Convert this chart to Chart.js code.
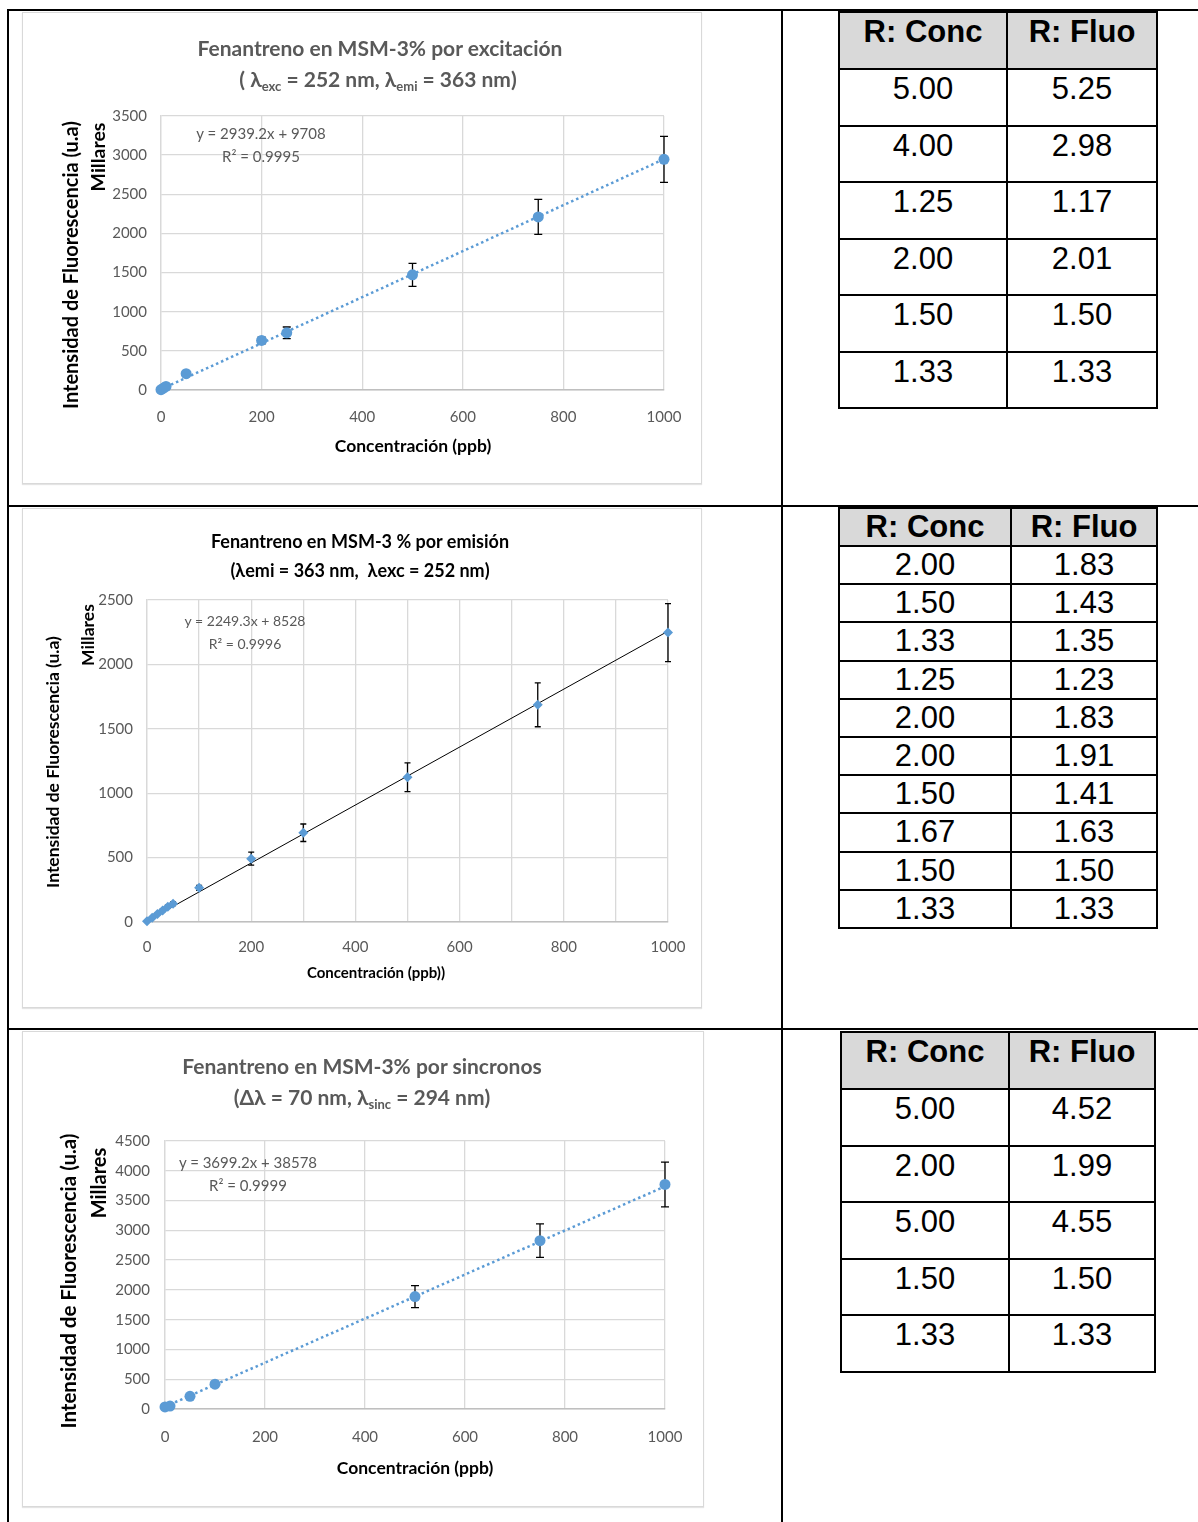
<!DOCTYPE html>
<html>
<head>
<meta charset="utf-8">
<script src="https://cdn.jsdelivr.net/npm/chart.js@4.4.1/dist/chart.umd.min.js"></script>
<style>
  html, body { margin: 0; padding: 0; background: #fff; }
  body { width: 1198px; height: 1522px; position: relative; overflow: hidden; font-family: Lato, "Open Sans", sans-serif; }
  .ln { position: absolute; background: #000; }
  .frame { position: absolute; border: 1px solid #d9d9d9; box-sizing: border-box; box-shadow: 0 1px 1px #e4e4e4; }
  .cv { position: absolute; }
  .txt { position: absolute; white-space: nowrap; transform: translate(-50%, -50%); }
  .rot { transform: translate(-50%, -50%) rotate(-90deg); }
  .ttl { font-weight: bold; font-size: 21px; color: #595959; }
  .ttl sub { font-size: 13px; vertical-align: -4px; }
  .eq { font-size: 15px; color: #595959; line-height: 23px; text-align: center; }
  .ax { font-weight: bold; font-size: 17px; color: #000; }
  table.rt { position: absolute; border-collapse: collapse; font-family: "Liberation Sans", Arial, sans-serif; font-size: 31px; color: #000; }
  table.rt td, table.rt th { border: 2px solid #000; text-align: center; padding: 0; }
  table.rt th { background: #d9d9d9; font-weight: bold; }
</style>
</head>
<body>

<!-- outer table lines -->
<div class="ln" style="left:8px; top:9px; width:1190px; height:2px;"></div>
<div class="ln" style="left:8px; top:505px; width:1190px; height:2px;"></div>
<div class="ln" style="left:8px; top:1028px; width:1190px; height:2px;"></div>
<div class="ln" style="left:7px; top:9px; width:2px; height:1513px;"></div>
<div class="ln" style="left:781px; top:9px; width:2px; height:1513px;"></div>

<div class="frame" style="left:22px; top:12px; width:680px; height:472px;"></div>
<div class="frame" style="left:22px; top:508px; width:680px; height:500px;"></div>
<div class="frame" style="left:22px; top:1031px; width:682px; height:476px;"></div>

<div class="cv" style="left:22px; top:12px; width:680px; height:472px;"><canvas id="c1"></canvas></div>
<div class="cv" style="left:22px; top:508px; width:680px; height:500px;"><canvas id="c2"></canvas></div>
<div class="cv" style="left:22px; top:1031px; width:682px; height:476px;"><canvas id="c3"></canvas></div>

<!-- chart 1 texts -->
<div class="txt ttl" style="left:380px; top:47px;">Fenantreno en MSM-3% por excitación</div>
<div class="txt ttl" style="left:378px; top:80px;">( λ<sub>exc</sub> = 252 nm, λ<sub>emi</sub> = 363 nm)</div>
<div class="txt eq" style="left:261px; top:145px;">y = 2939.2x + 9708<br>R² = 0.9995</div>
<div class="txt ax" style="left:413px; top:445px; font-size:17.5px;">Concentración (ppb)</div>
<div class="txt ax rot" style="left:70px; top:265px; font-size:20px;">Intensidad de Fluorescencia (u.a)</div>
<div class="txt ax rot" style="left:97px; top:157px; font-size:19.5px;">Millares</div>

<!-- chart 2 texts -->
<div class="txt ttl" style="left:360px; top:541px; color:#000; font-size:18px;">Fenantreno en MSM-3 % por emisión</div>
<div class="txt ttl" style="left:360px; top:570px; color:#000; font-size:18px;">(λemi = 363 nm,&nbsp; λexc = 252 nm)</div>
<div class="txt eq" style="left:245px; top:632px; font-size:14px;">y = 2249.3x + 8528<br>R² = 0.9996</div>
<div class="txt ax" style="left:376px; top:972px; font-size:15px;">Concentración (ppb))</div>
<div class="txt ax rot" style="left:52px; top:762px; font-size:17.5px;">Intensidad de Fluorescencia (u.a)</div>
<div class="txt ax rot" style="left:87px; top:635px; font-size:17.5px;">Millares</div>

<!-- chart 3 texts -->
<div class="txt ttl" style="left:362px; top:1065px;">Fenantreno en MSM-3% por sincronos</div>
<div class="txt ttl" style="left:362px; top:1098px;">(Δλ = 70 nm, λ<sub>sinc</sub> = 294 nm)</div>
<div class="txt eq" style="left:248px; top:1174px;">y = 3699.2x + 38578<br>R² = 0.9999</div>
<div class="txt ax" style="left:415px; top:1467px; font-size:17.5px;">Concentración (ppb)</div>
<div class="txt ax rot" style="left:68px; top:1281px; font-size:20.5px;">Intensidad de Fluorescencia (u.a)</div>
<div class="txt ax rot" style="left:98px; top:1183px; font-size:20px;">Millares</div>

<table class="rt" id="t1" style="left:838px; top:11px; width:320px;"></table>
<table class="rt" id="t2" style="left:838px; top:507px; width:320px;"></table>
<table class="rt" id="t3" style="left:840px; top:1031px; width:316px;"></table>

<script>
// ── Chart 1: excitación (y in Millares) ──
const conc1 = [0, 5, 10, 50, 200, 250, 500, 750, 1000];
const fluo1 = [4, 25, 45, 208, 633, 731, 1471, 2211, 2946];
const err1  = [0, 2, 4, 20, 42, 74, 147, 223, 293];
const trendX1 = [0, 1000];
const trendY1 = [9.7, 2948.9];

// ── Chart 2: emisión ──
const conc2 = [0, 10, 20, 30, 40, 50, 100, 200, 300, 500, 750, 1000];
const fluo2 = [5, 33, 62, 90, 119, 142, 265, 492, 693, 1124, 1686, 2247];
const err2  = [0, 3, 6, 9, 12, 14, 20, 50, 68, 111, 170, 225];
const trendX2 = [0, 1000];
const trendY2 = [8.5, 2257.8];

// ── Chart 3: sincronos ──
const conc3 = [0, 10, 50, 100, 500, 750, 1000];
const fluo3 = [35, 50, 213, 416, 1888, 2826, 3770];
const err3  = [3, 5, 21, 42, 185, 281, 376];
const trendX3 = [0, 1000];
const trendY3 = [38.6, 3737.8];

// ── Ratio tables ──
const t1Conc = ['5.00', '4.00', '1.25', '2.00', '1.50', '1.33'];
const t1Fluo = ['5.25', '2.98', '1.17', '2.01', '1.50', '1.33'];
const t2Conc = ['2.00', '1.50', '1.33', '1.25', '2.00', '2.00', '1.50', '1.67', '1.50', '1.33'];
const t2Fluo = ['1.83', '1.43', '1.35', '1.23', '1.83', '1.91', '1.41', '1.63', '1.50', '1.33'];
const t3Conc = ['5.00', '2.00', '5.00', '1.50', '1.33'];
const t3Fluo = ['4.52', '1.99', '4.55', '1.50', '1.33'];

const BLUE = '#5b9bd5';
const FONT = 'Lato, "Open Sans", sans-serif';

function buildTable(id, conc, fluo, col1, headH, rowH, padTop) {
  const t = document.getElementById(id);
  const st = `vertical-align:top; padding-top:${padTop}px; box-sizing:border-box;`;
  t.innerHTML =
    `<tr style="height:${headH}px"><th style="width:${col1}px; ${st}">R: Conc</th><th style="${st}">R: Fluo</th></tr>` +
    conc.map((c, i) => `<tr style="height:${rowH}px"><td style="${st}">${c}</td><td style="${st}">${fluo[i]}</td></tr>`).join('');
}
buildTable('t1', t1Conc, t1Fluo, 168, 57, 56.5, 1);
buildTable('t2', t2Conc, t2Fluo, 172, 38, 38.2, 0);
buildTable('t3', t3Conc, t3Fluo, 168, 57, 56.5, 1);

// error bars, drawn under the markers
const errorBars = {
  id: 'errorBars',
  beforeDatasetsDraw(chart, args, opts) {
    const { ctx, scales: { x, y } } = chart;
    const ds = chart.data.datasets[0];
    const errs = opts.values || [];
    ctx.save();
    ctx.strokeStyle = '#000';
    ctx.lineWidth = opts.width || 1.2;
    ds.data.forEach((p, i) => {
      const e = errs[i];
      if (!e) return;
      const px = x.getPixelForValue(p.x);
      const y0 = y.getPixelForValue(p.y - e), y1 = y.getPixelForValue(p.y + e);
      const c = opts.cap || 4;
      ctx.beginPath();
      ctx.moveTo(px, y0); ctx.lineTo(px, y1);
      ctx.moveTo(px - c, y0); ctx.lineTo(px + c, y0);
      ctx.moveTo(px - c, y1); ctx.lineTo(px + c, y1);
      ctx.stroke();
    });
    ctx.restore();
  }
};

function makeChart(id, cfg) {
  const pts = cfg.conc.map((c, i) => ({ x: c, y: cfg.fluo[i] }));
  const trend = cfg.trendX.map((c, i) => ({ x: c, y: cfg.trendY[i] }));
  return new Chart(document.getElementById(id), {
    type: 'scatter',
    data: { datasets: [
      { data: pts, backgroundColor: BLUE, borderColor: BLUE, pointStyle: cfg.marker, pointRadius: cfg.radius,
        borderWidth: 0, clip: false, order: 0 },
      { data: trend, showLine: true, pointRadius: 0, borderColor: cfg.lineColor, borderWidth: cfg.lineWidth,
        borderDash: cfg.dash, clip: false, order: 1 }
    ]},
    plugins: [errorBars],
    options: {
      animation: false, responsive: true, maintainAspectRatio: false,
      layout: { padding: { left: 0, right: cfg.pad.r, top: cfg.pad.t, bottom: 0 } },
      plugins: { legend: { display: false }, tooltip: { enabled: false },
        errorBars: { values: cfg.err, cap: cfg.cap, width: 1.3 } },
      scales: {
        x: {
          type: 'linear', min: 0, max: 1000,
          afterFit: s => { s.height = cfg.pad.b; },
          ticks: { stepSize: cfg.xStep, autoSkip: false, padding: cfg.xPad, color: '#595959',
            font: { family: FONT, size: cfg.tick },
            callback: v => (v % 200 === 0 ? String(v) : '') },
          grid: { color: '#d9d9d9', lineWidth: 1.3, drawTicks: false },
          border: { color: cfg.axisColor, width: 1.5 }
        },
        y: {
          min: 0, max: cfg.yMax,
          afterFit: s => { s.width = cfg.pad.l; },
          ticks: { stepSize: 500, padding: cfg.yPad, color: '#595959', font: { family: FONT, size: cfg.tick },
            callback: v => String(v) },
          grid: { color: '#d9d9d9', lineWidth: 1.3, drawTicks: false },
          border: { color: '#d9d9d9', width: 1.3 }
        }
      }
    }
  });
}

makeChart('c1', { conc: conc1, fluo: fluo1, err: err1, trendX: trendX1, trendY: trendY1,
  marker: 'circle', radius: 5.5, lineColor: BLUE, lineWidth: 2.5, dash: [2.5, 3], cap: 4,
  yMax: 3500, xStep: 200, tick: 15, xPad: 18, yPad: 14, axisColor: '#bfbfbf',
  pad: { l: 139, r: 38, t: 104, b: 94 } });

makeChart('c2', { conc: conc2, fluo: fluo2, err: err2, trendX: trendX2, trendY: trendY2,
  marker: 'rectRot', radius: 5, lineColor: '#000', lineWidth: 1, dash: [], cap: 3,
  yMax: 2500, xStep: 100, tick: 15, xPad: 16, yPad: 14, axisColor: '#bfbfbf',
  pad: { l: 125, r: 34, t: 92, b: 86 } });

makeChart('c3', { conc: conc3, fluo: fluo3, err: err3, trendX: trendX3, trendY: trendY3,
  marker: 'circle', radius: 5.5, lineColor: BLUE, lineWidth: 2.5, dash: [2.5, 3], cap: 4,
  yMax: 4500, xStep: 200, tick: 15, xPad: 19, yPad: 15, axisColor: '#bfbfbf',
  pad: { l: 143, r: 39, t: 110, b: 98 } });
</script>
</body>
</html>
